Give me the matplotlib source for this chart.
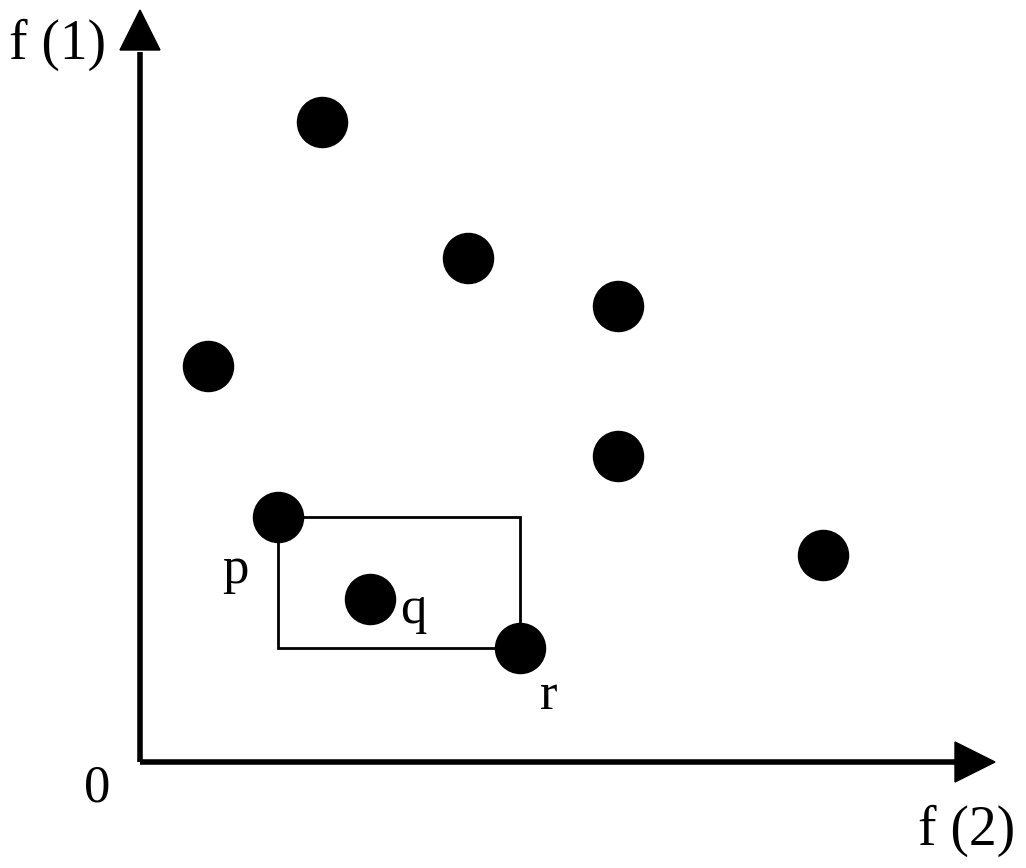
import matplotlib.pyplot as plt
from matplotlib.patches import Rectangle

# points in the f(2)-f(1) plane (arbitrary units)
f2_vals = [1.82, 3.28, 4.78, 0.68, 4.78, 1.38, 6.83, 2.30, 3.80]
f1_vals = [6.40, 5.04, 4.56, 3.96, 3.06, 2.45, 2.07, 1.63, 1.14]
point_names = ['', '', '', '', '', 'p', '', 'q', 'r']

# label offsets relative to each named point
label_offsets = {'p': (-0.43, -0.53), 'q': (0.43, -0.11), 'r': (0.29, -0.48)}

fig = plt.figure(figsize=(10.26, 8.68), dpi=100)
ax = fig.add_axes([0, 0, 1, 1])
ax.set_xlim(-1.40, 8.86)
ax.set_ylim(-1.06, 7.62)
ax.axis('off')

font = {'family': 'Liberation Serif', 'color': 'black'}

# axes with arrow heads
ax.plot([0, 8.15], [0, 0], color='black', lw=4, solid_capstyle='butt')
ax.plot([0, 0], [0, 7.10], color='black', lw=4, solid_capstyle='butt')
ax.fill([8.15, 8.55, 8.15], [0.20, 0, -0.20], color='black')
ax.fill([-0.20, 0, 0.20], [7.12, 7.52, 7.12], color='black')

# dominance box between p and r
ip, ir = point_names.index('p'), point_names.index('r')
ax.add_patch(Rectangle((f2_vals[ip], f1_vals[ir]),
                       f2_vals[ir] - f2_vals[ip], f1_vals[ip] - f1_vals[ir],
                       fill=False, edgecolor='black', lw=2, zorder=2))

ax.scatter(f2_vals, f1_vals, s=1300, color='black', zorder=3)

for x, y, name in zip(f2_vals, f1_vals, point_names):
    if name:
        dx, dy = label_offsets[name]
        ax.text(x + dx, y + dy, name, fontsize=38, ha='center', va='center', **font)

ax.text(-0.43, -0.27, '0', fontsize=38, ha='center', va='center', **font)
ax.text(-0.82, 7.17, 'f (1)', fontsize=40, ha='center', va='center', **font)
ax.text(8.27, -0.69, 'f (2)', fontsize=40, ha='center', va='center', **font)

fig.savefig('out.png', dpi=100)
